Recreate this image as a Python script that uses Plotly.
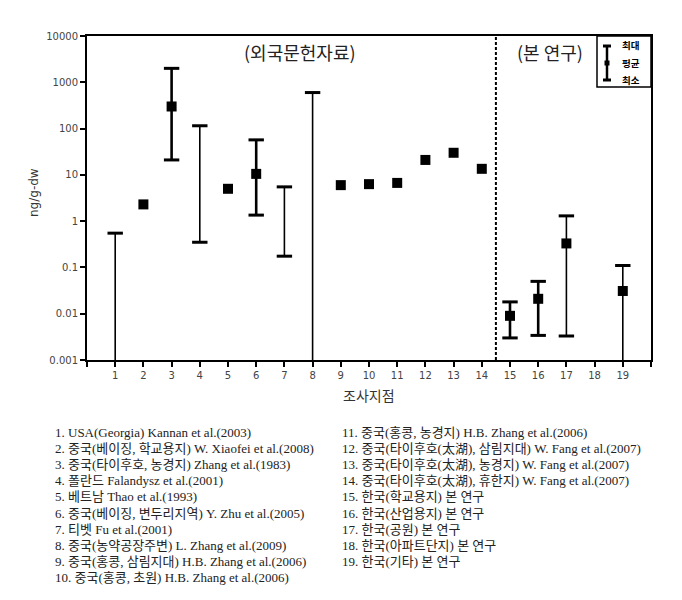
import plotly.graph_objects as go

# ---------------- data ----------------
sites = [1, 2, 3, 4, 5, 6, 7, 8, 9, 10, 11, 12, 13, 14, 15, 16, 17, 19]
mean_vals = [None, 2.3, 300, None, 5.0, 10.5, None, None, 6.0, 6.3, 6.7, 21, 30, 13.5,
             0.009, 0.021, 0.33, 0.031]
max_vals = [0.55, None, 2000, 115, None, 57, 5.5, 600, None, None, None, None, None, None,
            0.018, 0.05, 1.3, 0.11]
min_vals = [0.001, None, 21, 0.35, None, 1.35, 0.175, 0.001, None, None, None, None, None, None,
            0.003, 0.0034, 0.0033, 0.001]

x_tick_vals = list(range(0, 21))
x_tick_text = [""] + [str(i) for i in range(1, 20)] + [""]
y_tick_vals = [0.001, 0.01, 0.1, 1, 10, 100, 1000, 10000]
y_tick_text = ["0.001", "0.01", "0.1", "1", "10", "100", "1000", "10000"]
divider_x = 14.5

label_foreign = "(외국문헌자료)"
label_this = "(본 연구)"
legend_labels = ["최대", "평균", "최소"]
x_title = "조사지점"
y_title = "ng/g-dw"

refs_left = [
    "1. USA(Georgia) Kannan et al.(2003)",
    "2. 중국(베이징, 학교용지) W. Xiaofei et al.(2008)",
    "3. 중국(타이후호, 농경지) Zhang et al.(1983)",
    "4. 폴란드 Falandysz et al.(2001)",
    "5. 베트남 Thao et al.(1993)",
    "6. 중국(베이징, 변두리지역) Y. Zhu et al.(2005)",
    "7. 티벳 Fu et al.(2001)",
    "8. 중국(농약공장주변) L. Zhang et al.(2009)",
    "9. 중국(홍콩, 삼림지대) H.B. Zhang et al.(2006)",
    "10. 중국(홍콩, 초원) H.B. Zhang et al.(2006)",
]
refs_right = [
    "11. 중국(홍콩, 농경지) H.B. Zhang et al.(2006)",
    "12. 중국(타이후호(太湖), 삼림지대) W. Fang et al.(2007)",
    "13. 중국(타이후호(太湖), 농경지) W. Fang et al.(2007)",
    "14. 중국(타이후호(太湖), 휴한지) W. Fang et al.(2007)",
    "15. 한국(학교용지) 본 연구",
    "16. 한국(산업용지) 본 연구",
    "17. 한국(공원) 본 연구",
    "18. 한국(아파트단지) 본 연구",
    "19. 한국(기타) 본 연구",
]

# ---------------- styles ----------------
THICK_SITES = {3, 6, 15, 16}
W, H = 682, 600
ML, MR, MT, MB = 87, 31, 36, 240
PW, PH = W - ML - MR, H - MT - MB
FLOOR = 0.001

def px_x(p):
    return (p - ML) / PW

def px_y(p):
    return (H - MB - p) / PH

fig = go.Figure()

# range lines
for thick in (True, False):
    xs, ys = [], []
    for s, lo, hi in zip(sites, min_vals, max_vals):
        if hi is None or lo is None:
            continue
        if (s in THICK_SITES) != thick:
            continue
        xs += [s, s, None]
        ys += [lo, hi, None]
    fig.add_trace(go.Scatter(x=xs, y=ys, mode="lines",
                             line=dict(color="black", width=2.6 if thick else 1.6),
                             hoverinfo="skip", showlegend=False))

# caps
cx, cy = [], []
for s, lo, hi in zip(sites, min_vals, max_vals):
    if hi is not None:
        cx.append(s); cy.append(hi)
    if lo is not None and lo > FLOOR:
        cx.append(s); cy.append(lo)
fig.add_trace(go.Scatter(x=cx, y=cy, mode="markers",
                         marker=dict(symbol="line-ew", size=11,
                                     line=dict(color="black", width=3)),
                         hoverinfo="skip", showlegend=False))

# means
mx = [s for s, m in zip(sites, mean_vals) if m is not None]
my = [m for m in mean_vals if m is not None]
fig.add_trace(go.Scatter(x=mx, y=my, mode="markers",
                         marker=dict(symbol="square", size=10, color="black",
                                     line=dict(width=0)),
                         showlegend=False))

shapes = [
    dict(type="line", xref="x", yref="paper", x0=divider_x, x1=divider_x, y0=0, y1=1,
         line=dict(color="black", width=2, dash="3px,2px")),
    # legend box
    dict(type="rect", xref="paper", yref="paper", x0=px_x(597), x1=1, y0=px_y(87), y1=1,
         line=dict(color="black", width=1.5), fillcolor="white"),
    dict(type="line", xref="paper", yref="paper", x0=px_x(607), x1=px_x(607),
         y0=px_y(46), y1=px_y(80), line=dict(color="black", width=2.5)),
    dict(type="line", xref="paper", yref="paper", x0=px_x(603), x1=px_x(611),
         y0=px_y(46), y1=px_y(46), line=dict(color="black", width=3)),
    dict(type="line", xref="paper", yref="paper", x0=px_x(603), x1=px_x(611),
         y0=px_y(80), y1=px_y(80), line=dict(color="black", width=3)),
    dict(type="rect", xref="paper", yref="paper", x0=px_x(604.5), x1=px_x(609.5),
         y0=px_y(65.5), y1=px_y(60.5), line=dict(width=0), fillcolor="black"),
]

def note(text, x, y, font, xanchor="center", **kw):
    return dict(text=text, x=px_x(x), y=px_y(y), xref="paper", yref="paper",
                xanchor=xanchor, yanchor="middle", showarrow=False, font=font, **kw)

ann = []
ann.append(note(label_foreign, 300, 52, dict(family="Noto Sans CJK KR", size=18, color="#222")))
ann.append(note(label_this, 550, 52, dict(family="Noto Sans CJK KR", size=18, color="#222")))
for lab, py in zip(legend_labels, [45, 63, 80]):
    ann.append(note("<b>" + lab + "</b>", 620, py,
                    dict(family="Noto Sans CJK KR", size=9.5, color="black"), xanchor="left"))
ann.append(note(x_title, 369, 395, dict(family="Noto Sans CJK KR", size=14, color="#333")))
ann.append(note(y_title, 34, 193, dict(family="DejaVu Sans", size=12, color="#333"),
                textangle=-90))

ref_font = dict(family="Liberation Serif, Noto Sans CJK KR", size=13, color="#222")
for i, t in enumerate(refs_left):
    ann.append(note(t, 53, 432 + 16.2 * i, ref_font, xanchor="left"))
for i, t in enumerate(refs_right):
    ann.append(note(t, 340, 432 + 16.2 * i, ref_font, xanchor="left"))

fig.update_layout(
    width=W, height=H,
    margin=dict(l=ML, r=MR, t=MT, b=MB, pad=0),
    paper_bgcolor="white", plot_bgcolor="white",
    shapes=shapes, annotations=ann, showlegend=False,
    xaxis=dict(range=[0, 20], tickmode="array", tickvals=x_tick_vals, ticktext=x_tick_text,
               showgrid=False, zeroline=False, showline=True, linecolor="black",
               linewidth=2, mirror=True, ticks="outside", ticklen=5, tickwidth=2,
               tickcolor="black", tickfont=dict(family="DejaVu Sans", size=10, color="#444")),
    yaxis=dict(type="log", range=[-3, 4], tickmode="array", tickvals=y_tick_vals,
               ticktext=y_tick_text, showgrid=False, zeroline=False, showline=True,
               linecolor="black", linewidth=2, mirror=True, ticks="outside", ticklen=5,
               tickwidth=2, tickcolor="black",
               tickfont=dict(family="DejaVu Sans", size=10, color="#444")),
)

fig.write_html("out.html")
